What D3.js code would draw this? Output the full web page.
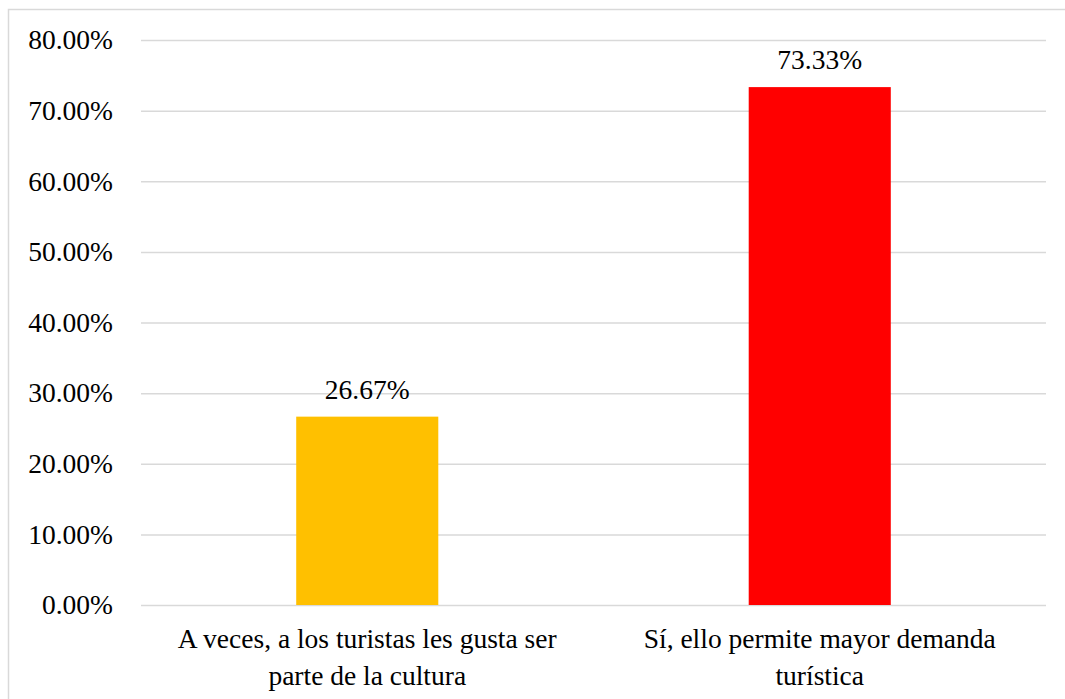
<!DOCTYPE html>
<html><head><meta charset="utf-8"><script src="https://cdn.jsdelivr.net/npm/d3@7"></script></head>
<body style="margin:0">
<script>
const categories = [
  ["A veces, a los turistas les gusta ser", "parte de la cultura"],
  ["Sí, ello permite mayor demanda", "turística"]
];
const values = [26.67, 73.33];
const barColors = ["#FFC000", "#FF0000"];
const tickValues = [0, 10, 20, 30, 40, 50, 60, 70, 80];

const FONT = '"Liberation Serif"';
const FS = "27.5px";
const W = 1065, H = 699;

const s = d3.select("body").append("svg")
  .attr("width", W).attr("height", H)
  .style("display", "block");

// chart border
s.append("rect")
  .attr("x", 8.5).attr("y", 9.5)
  .attr("width", W + 10).attr("height", H + 10)
  .attr("fill", "#fff").attr("stroke", "#d9d9d9").attr("stroke-width", 1.5);

const plot = { left: 141, right: 1046, top: 40, bottom: 605 };

const y = d3.scaleLinear().domain([0, 80]).range([plot.bottom, plot.top]);
const x = d3.scaleBand()
  .domain(d3.range(categories.length))
  .range([plot.left, plot.right])
  .paddingInner(0.686)
  .paddingOuter(0.343);

// gridlines (lines only from the axis)
const yAxis = d3.axisLeft(y)
  .tickValues(tickValues)
  .tickSize(-(plot.right - plot.left))
  .tickFormat("");
const gy = s.append("g")
  .attr("transform", `translate(${plot.left},0)`)
  .call(yAxis);
gy.select(".domain").remove();
gy.selectAll(".tick line").attr("stroke", "#d9d9d9").attr("stroke-width", 1.5);
gy.selectAll(".tick text").remove();

// tick labels
s.selectAll("text.ytick")
  .data(tickValues)
  .join("text")
  .attr("class", "ytick")
  .attr("x", plot.left - 28)
  .attr("y", d => y(d))
  .attr("dy", "0.34em")
  .attr("text-anchor", "end")
  .style("font-family", FONT, "important")
  .style("font-size", FS)
  .text(d => d.toFixed(2) + "%");

// bars
s.selectAll("rect.bar")
  .data(values)
  .join("rect")
  .attr("class", "bar")
  .attr("x", (d, i) => x(i))
  .attr("width", x.bandwidth())
  .attr("y", d => y(d))
  .attr("height", d => y(0) - y(d))
  .attr("fill", (d, i) => barColors[i]);

// data labels
s.selectAll("text.lbl")
  .data(values)
  .join("text")
  .attr("class", "lbl")
  .attr("x", (d, i) => x(i) + x.bandwidth() / 2)
  .attr("y", d => y(d) - 18)
  .attr("text-anchor", "middle")
  .style("font-family", FONT, "important")
  .style("font-size", FS)
  .text(d => d.toFixed(2) + "%");

// category labels
const cat = s.selectAll("text.cat")
  .data(categories)
  .join("text")
  .attr("class", "cat")
  .attr("text-anchor", "middle")
  .style("font-family", FONT, "important")
  .style("font-size", FS);
cat.each(function(lines, i) {
  const t = d3.select(this);
  lines.forEach((ln, j) => {
    t.append("tspan")
      .attr("x", x(i) + x.bandwidth() / 2)
      .attr("y", 648 + j * 37)
      .text(ln);
  });
});
</script>
</body>
</html>
